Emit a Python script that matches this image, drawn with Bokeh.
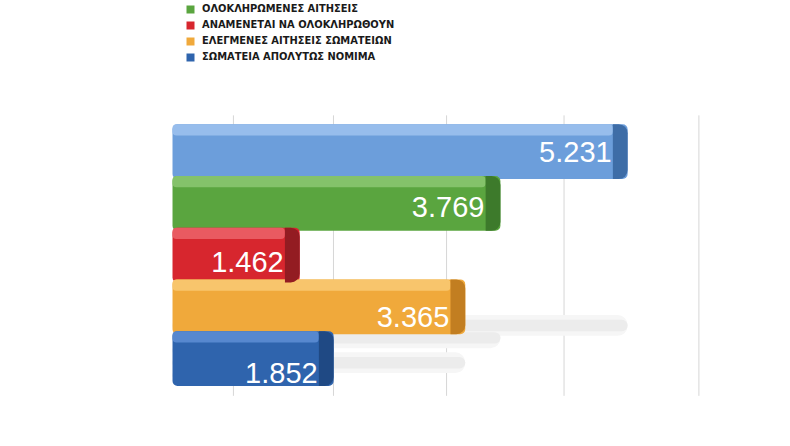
from bokeh.plotting import figure
from bokeh.models import Range1d, Legend, LegendItem, ColumnDataSource
from bokeh.embed import file_html
from bokeh.resources import INLINE
from bokeh.core.properties import value

# ---- data ----
categories = ["", "ΟΛΟΚΛΗΡΩΜΕΝΕΣ ΑΙΤΗΣΕΙΣ", "ΑΝΑΜΕΝΕΤΑΙ ΝΑ ΟΛΟΚΛΗΡΩΘΟΥΝ",
              "ΕΛΕΓΜΕΝΕΣ ΑΙΤΗΣΕΙΣ ΣΩΜΑΤΕΙΩΝ", "ΣΩΜΑΤΕΙΑ ΑΠΟΛΥΤΩΣ ΝΟΜΙΜΑ"]
values = [5231, 3769, 1462, 3365, 1852]
front_colors = ["#6c9edb", "#5aa53f", "#d7262e", "#f0a93b", "#2f64ad"]
top_colors = ["#97bdec", "#84c26a", "#e95a61", "#f8c56c", "#5788cf"]
end_colors = ["#3e6da7", "#3d7a2b", "#931c22", "#c27e21", "#1f4984"]
grid_ticks = [700, 1850, 3150, 4500, 6050]

n = len(values)
ypos = [n - 1 - i for i in range(n)]
labels = [f"{v:,}".replace(",", ".") for v in values]
cap = 170
bar_h = 1.06
strip_h = 0.22

src = ColumnDataSource(dict(
    y=ypos, v=values, lab=labels,
    front=front_colors, top=top_colors, end=end_colors,
    cap_left=[v - cap for v in values],
    strip_y=[y + bar_h / 2 - strip_h / 2 for y in ypos],
    shadow_y=[0.24 * y - 0.32 for y in ypos],
    lab_off=[14 - 3.5 * y for y in ypos],
))

p = figure(width=774, height=430, output_backend="svg", toolbar_location=None,
           x_range=Range1d(-1977, 6919), y_range=Range1d(-1.39, 6.92),
           min_border=0, outline_line_color=None)
p.axis.visible = False
p.grid.visible = False

# gridlines (back wall)
p.segment(x0=grid_ticks, x1=grid_ticks,
          y0=[-0.72] * len(grid_ticks), y1=[n - 1 + 0.7] * len(grid_ticks),
          line_color="#d6d6d6", line_width=1)

# soft floor shadows
p.hbar(y="shadow_y", left=0, right="v", height=0.40, source=src,
       fill_color="#f6f6f6", line_color=None, border_radius=10)
p.hbar(y="shadow_y", left=0, right="v", height=0.22, source=src,
       fill_color="#ececec", line_color=None, border_radius=6)

main = p.hbar(y="y", left=0, right="v", height=bar_h, source=src,
              fill_color="front", line_color=None, border_radius=5)
p.hbar(y="strip_y", left=0, right="cap_left", height=strip_h, source=src,
       fill_color="top", line_color=None, border_radius=4)
p.hbar(y="y", left="cap_left", right="v", height=bar_h, source=src,
       fill_color="end", line_color=None, border_radius=(0, 9, 9, 0))

p.text(x="v", y="y", text="lab", source=src, x_offset=-16, y_offset="lab_off",
       text_align="right", text_baseline="middle", text_color="white",
       text_font=value("Liberation Sans"), text_font_size="29px")

items = [LegendItem(label=categories[i], renderers=[main], index=i)
         for i in range(n) if categories[i]]
legend = Legend(items=items, location=(185, 367), orientation="vertical",
                glyph_width=10, glyph_height=10, label_height=12, spacing=3,
                label_standoff=7, padding=0, margin=0,
                border_line_color=None, background_fill_alpha=0,
                label_text_font="DejaVu Sans Condensed",
                label_text_font_style="bold", label_text_font_size="11px",
                label_text_color="#1a1a1a")
p.add_layout(legend)

open("out.html", "w").write(file_html(p, INLINE))
